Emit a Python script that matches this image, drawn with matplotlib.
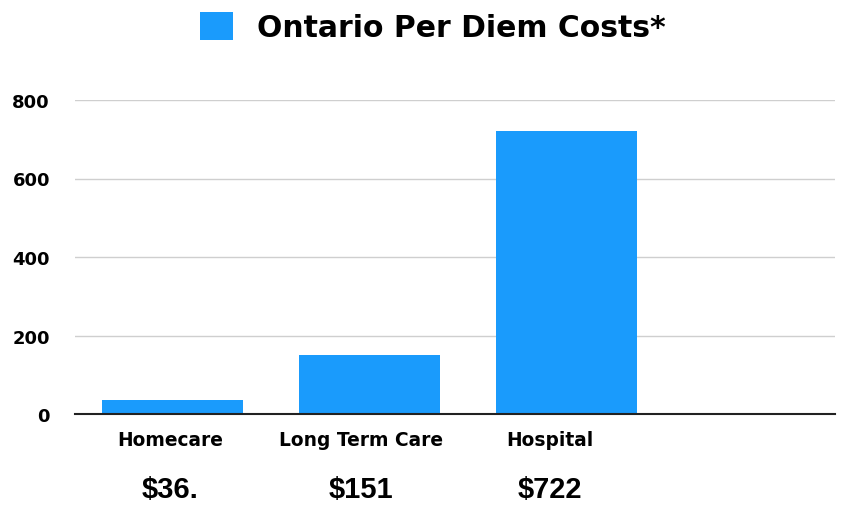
import matplotlib
matplotlib.use("Agg")
import matplotlib.pyplot as plt
from matplotlib.patches import Patch

categories = ["Homecare", "Long Term Care", "Hospital"]
values = [36, 151, 722]
value_labels = ["$36.", "$151", "$722"]
yticks = [0, 200, 400, 600, 800]
series_name = "Ontario Per Diem Costs*"

bar_color = "#1a9bfc"
label_dx = [-2, -9, -17]  # pixel shift of the text under each bar

fig = plt.figure(figsize=(8.53, 5.06), dpi=100)
ax = fig.add_axes([75/853, 1-415/506, (835-75)/853, (415-101)/506])

x = list(range(len(categories)))
ax.bar(x, values, width=0.716, color=bar_color, zorder=2)
ax.set_xlim(-0.495, 3.363)
ax.set_ylim(0, 800)
ax.set_yticks(yticks)
ax.set_yticklabels([str(t) for t in yticks], fontfamily="DejaVu Sans", fontweight="heavy", fontsize=13)
ax.tick_params(axis="y", length=0, pad=18)
ax.set_xticks(x)
ax.set_xticklabels([])
ax.tick_params(axis="x", length=0)
ax.grid(axis="y", color="#cfcfcf", linewidth=1, zorder=0)
for s in ["top", "right", "left"]:
    ax.spines[s].set_visible(False)
ax.spines["bottom"].set_color("#222222")
ax.spines["bottom"].set_linewidth(1.5)
ax.spines["bottom"].set_zorder(3)

for xi, cat, lab, dx in zip(x, categories, value_labels, label_dx):
    ax.annotate(cat, xy=(xi, 0), xytext=(dx, -26), textcoords="offset pixels",
                ha="center", va="center", fontfamily="DejaVu Sans",
                fontweight="heavy", fontsize=13.4, annotation_clip=False)
    ax.annotate(lab, xy=(xi, 0), xytext=(dx, -83), textcoords="offset pixels",
                ha="center", va="baseline", fontfamily="Liberation Sans",
                fontweight="bold", fontsize=21, annotation_clip=False)

handle = Patch(facecolor=bar_color, edgecolor="none")
fig.legend([handle], [series_name], loc="center", bbox_to_anchor=(433/853, 1-28/506),
           frameon=False, handlelength=1.1, handleheight=1.1, handletextpad=0.8,
           prop={"family": "DejaVu Sans", "weight": "heavy", "size": 21.5})

fig.savefig("out.png", dpi=100, facecolor="white")
